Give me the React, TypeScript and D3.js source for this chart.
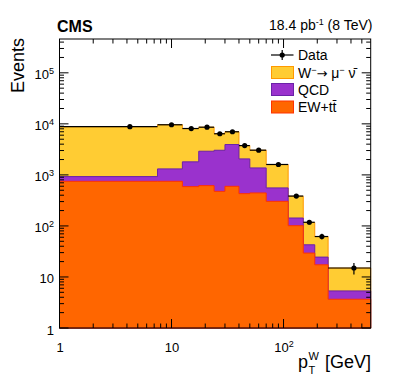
import { useEffect, useRef } from 'react'
import * as d3 from 'd3'

// bin edges in pT (GeV); first bin starts at 0 but is shown from 1 on the log axis
const binEdges = [1, 7.5, 12.5, 17.5, 24, 30, 40, 50, 70, 110, 150, 190, 250, 600]
const dataCounts = [8800, 9600, 8100, 8600, 6400, 7000, 3750, 3050, 1600, 385, 118, 62, 15]
const wSignal = [7844, 8288, 6320, 5700, 3350, 3060, 1710, 1670, 1034, 237, 74, 37.5, 9.6]
const qcd = [177, 563, 1211, 2294, 2564, 3343, 1631, 927, 253, 42, 13.3, 7.2, 1.67]
const ewTT = [749, 749, 589, 616, 476, 597, 429, 443, 303, 101, 29.4, 17.3, 3.66]

const yMajorTicks = [1, 10, 100, 1000, 10000, 100000]
const xMajorTicks = [1, 10, 100]

const width = 399
const height = 387

const HistStack = () => {
  const svgRef = useRef<SVGSVGElement | null>(null)

  useEffect(() => {
    const left = 59.5
    const right = 370.7
    const top = 39
    const bottom = 328
    const font = 'Liberation Sans, Arial, Helvetica, sans-serif'

    const x = d3.scaleLog().domain([1, 600]).range([left, right])
    const y = d3.scaleLog().domain([1, 4.6e5]).range([bottom, top])

    const rows = binEdges.slice(0, -1).map((lo, i) => ({
      lo,
      hi: binEdges[i + 1],
      ew: ewTT[i],
      qcd: qcd[i],
      w: wSignal[i],
    }))
    const layers = d3.stack<any>().keys(['ew', 'qcd', 'w'])(rows)

    const svgEl = d3.select(svgRef.current)
    svgEl.selectAll('*').remove()

    // stacked histograms, drawn from the top layer down
    const styles: Record<string, { fill: string; stroke: string }> = {
      w: { fill: '#FFCC33', stroke: '#FF9900' },
      qcd: { fill: '#9A32CD', stroke: '#6B22A8' },
      ew: { fill: '#FF6600', stroke: '#FF3300' },
    }
    const stepPath = (tops: number[]) => {
      let p = `M${x(binEdges[0])},${bottom}`
      tops.forEach((v, i) => {
        p += `L${x(binEdges[i])},${y(v)}L${x(binEdges[i + 1])},${y(v)}`
      })
      p += `L${x(binEdges[binEdges.length - 1])},${bottom}Z`
      return p
    }
    const hist = svgEl.append('g')
    ;[...layers].reverse().forEach((layer) => {
      const s = styles[layer.key]
      hist
        .append('path')
        .attr('d', stepPath(layer.map((d) => d[1])))
        .attr('fill', s.fill)
        .attr('stroke', s.stroke)
        .attr('stroke-width', 1)
    })

    // data points with stat errors
    const pts = svgEl
      .append('g')
      .selectAll('g')
      .data(dataCounts)
      .join('g')
    pts
      .append('line')
      .attr('x1', (d, i) => x(binEdges[i]))
      .attr('x2', (d, i) => x(binEdges[i + 1]))
      .attr('y1', (d) => y(d))
      .attr('y2', (d) => y(d))
      .attr('stroke', '#000')
      .attr('stroke-width', 1.2)
    pts
      .append('line')
      .attr('x1', (d, i) => x((binEdges[i] + binEdges[i + 1]) / 2))
      .attr('x2', (d, i) => x((binEdges[i] + binEdges[i + 1]) / 2))
      .attr('y1', (d) => y(d + Math.sqrt(d)))
      .attr('y2', (d) => y(d - Math.sqrt(d)))
      .attr('stroke', '#000')
      .attr('stroke-width', 1.2)
    pts
      .append('circle')
      .attr('cx', (d, i) => x((binEdges[i] + binEdges[i + 1]) / 2))
      .attr('cy', (d) => y(d))
      .attr('r', 2.6)
      .attr('fill', '#000')

    // frame
    svgEl
      .append('rect')
      .attr('x', left)
      .attr('y', top)
      .attr('width', right - left)
      .attr('height', bottom - top)
      .attr('fill', 'none')
      .attr('stroke', '#000')
      .attr('stroke-width', 1)

    // ticks on all four sides
    const minor = (max: number) => {
      const out: number[] = []
      for (let dec = 1; dec < max; dec *= 10) {
        for (let k = 2; k <= 9; k++) if (dec * k < max) out.push(dec * k)
      }
      return out
    }
    const ticks = svgEl.append('g').attr('stroke', '#000').attr('stroke-width', 1)
    const yT = [
      ...yMajorTicks.map((v) => ({ v, len: 9 })),
      ...minor(4.6e5).map((v) => ({ v, len: 4.5 })),
    ]
    const xT = [
      ...xMajorTicks.map((v) => ({ v, len: 9 })),
      ...minor(600).map((v) => ({ v, len: 4.5 })),
    ]
    yT.forEach(({ v, len }) => {
      ticks.append('line').attr('x1', left).attr('x2', left + len).attr('y1', y(v)).attr('y2', y(v))
      ticks.append('line').attr('x1', right).attr('x2', right - len).attr('y1', y(v)).attr('y2', y(v))
    })
    xT.forEach(({ v, len }) => {
      ticks.append('line').attr('x1', x(v)).attr('x2', x(v)).attr('y1', bottom).attr('y2', bottom - len)
      ticks.append('line').attr('x1', x(v)).attr('x2', x(v)).attr('y1', top).attr('y2', top + len)
    })

    // tick labels
    const powLabel = (sel: any, v: number) => {
      const e = Math.round(Math.log10(v))
      if (e <= 1) {
        sel.text(String(v))
      } else {
        sel.append('tspan').text('10')
        sel.append('tspan').attr('dy', -5).attr('font-size', 9).text(String(e))
      }
    }
    yMajorTicks.forEach((v) => {
      const t = svgEl
        .append('text')
        .attr('x', 54)
        .attr('y', y(v) + 6.5)
        .attr('text-anchor', 'end')
        .attr('font-family', font)
        .attr('font-size', 13)
        .attr('fill', '#000')
      powLabel(t, v)
    })
    xMajorTicks.forEach((v) => {
      const t = svgEl
        .append('text')
        .attr('x', x(v) + 0.5)
        .attr('y', 352)
        .attr('text-anchor', 'middle')
        .attr('font-family', font)
        .attr('font-size', 13)
        .attr('fill', '#000')
      powLabel(t, v)
    })

    // titles
    svgEl
      .append('text')
      .attr('x', 57)
      .attr('y', 31.5)
      .attr('font-family', font)
      .attr('font-weight', 'bold')
      .attr('font-size', 16)
      .text('CMS')
    const lumi = svgEl
      .append('text')
      .attr('x', 372.5)
      .attr('y', 30)
      .attr('text-anchor', 'end')
      .attr('font-family', font)
      .attr('font-size', 14)
    lumi.append('tspan').text('18.4 pb')
    lumi.append('tspan').attr('dy', -5).attr('font-size', 9).text('-1')
    lumi.append('tspan').attr('dy', 5).text(' (8 TeV)')

    svgEl
      .append('text')
      .attr('transform', 'translate(24,38) rotate(-90)')
      .attr('text-anchor', 'end')
      .attr('font-family', font)
      .attr('font-size', 18)
      .text('Events')

    const xt = svgEl.append('g').attr('font-family', font).attr('font-size', 18)
    xt.append('text').attr('x', 298).attr('y', 368).text('p')
    xt.append('text').attr('x', 308.5).attr('y', 374).attr('font-size', 11).text('T')
    xt.append('text').attr('x', 308.5).attr('y', 359.5).attr('font-size', 11).text('W')
    xt.append('text').attr('x', 371).attr('y', 368).attr('text-anchor', 'end').text('[GeV]')

    // legend
    const legend = svgEl.append('g').attr('font-family', font).attr('font-size', 14)
    legend
      .append('line')
      .attr('x1', 271)
      .attr('x2', 293.5)
      .attr('y1', 55)
      .attr('y2', 55)
      .attr('stroke', '#000')
      .attr('stroke-width', 1.2)
    legend
      .append('line')
      .attr('x1', 282.2)
      .attr('x2', 282.2)
      .attr('y1', 50)
      .attr('y2', 60)
      .attr('stroke', '#000')
      .attr('stroke-width', 1.2)
    legend.append('circle').attr('cx', 282.2).attr('cy', 55).attr('r', 2.6).attr('fill', '#000')
    legend.append('text').attr('x', 298).attr('y', 60).text('Data')

    const entries = [
      { key: 'w', cy: 72.5 },
      { key: 'qcd', cy: 89.5 },
      { key: 'ew', cy: 107 },
    ]
    entries.forEach(({ key, cy }) => {
      legend
        .append('rect')
        .attr('x', 271.5)
        .attr('y', cy - 6)
        .attr('width', 22)
        .attr('height', 12)
        .attr('fill', styles[key].fill)
        .attr('stroke', styles[key].stroke)
        .attr('stroke-width', 1)
    })
    const wl = legend.append('text').attr('x', 298).attr('y', 77.5)
    wl.append('tspan').text('W')
    wl.append('tspan').attr('dy', -5).attr('font-size', 9).text('\u2212')
    wl.append('tspan').attr('dy', 5).attr('font-family', 'DejaVu Sans').attr('font-size', 13).text('\u2192')
    wl.append('tspan').text(' \u03bc')
    wl.append('tspan').attr('dy', -5).attr('font-size', 9).text('\u2212')
    wl.append('tspan').attr('dy', 5).text(' \u03bd\u0304')
    legend.append('text').attr('x', 298).attr('y', 94.5).text('QCD')
    legend.append('text').attr('x', 298).attr('y', 112).text('EW+t\u0074\u0304')
  }, [])

  return (
    <svg
      ref={svgRef}
      width={width}
      height={height}
      style={{ position: 'absolute', left: 0, top: 0, background: '#fff' }}
    />
  )
}

export default function App() {
  return <HistStack />
}
